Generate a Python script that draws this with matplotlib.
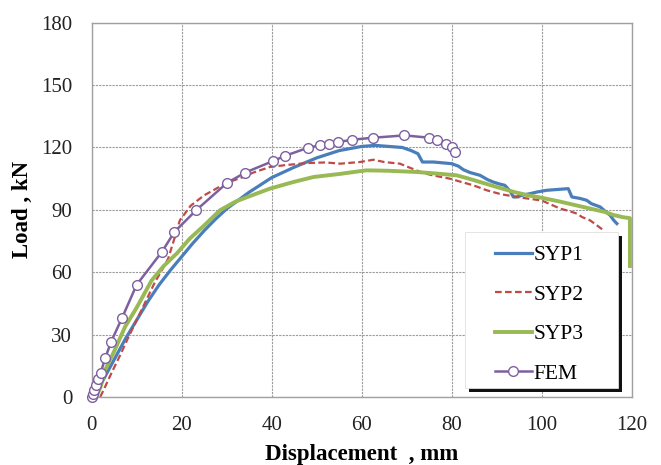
import matplotlib
matplotlib.use("Agg")
import matplotlib.pyplot as plt
from matplotlib.patches import Rectangle

# SYP1 test curve
syp1_x = [0, 1, 3, 5, 7.5, 10, 12.5, 15, 17.5, 20, 22.5, 25, 27.5, 30, 35, 40, 45, 50, 55, 60, 63,
          66, 69, 71, 72.5, 73.5, 76, 80, 81.5, 82.6, 84, 86.3, 88, 89.2, 90.5, 91.8, 93, 93.7, 94.4,
          96, 97.4, 99, 101.1, 103.5, 105.9, 106.7, 108.5, 110, 111, 113, 114, 115.2, 116, 116.7]
syp1_y = [0, 2, 10, 18, 28, 37, 46, 54, 61, 67.5, 74, 80, 85.5, 90.5, 98.5, 105.5, 110.5, 115, 118.5, 120.5, 121,
          120.5, 120, 118.5, 117, 113, 113, 112.2, 111, 109.3, 108, 106.6, 104.5, 103.4, 102.5, 101.8, 99, 96.2, 96.2,
          97.2, 97.8, 98.6, 99.4, 99.8, 100.2, 96.2, 95.5, 94.6, 93, 91.4, 89.5, 87.4, 85, 83.4]

# SYP2 test curve
syp2_x = [1.9, 3, 4.5, 6.3, 8, 10, 12, 14, 16, 17, 18.5, 19.6, 22, 25, 27, 30, 33.7, 36, 39.6, 43, 47.8,
          52, 55.2, 59.6, 62.6, 65, 68.5, 71, 73.7, 76, 79.6, 82, 84.8, 87.8, 91, 95, 100, 104.1, 106,
          107.8, 109, 110.7, 112, 113.7]
syp2_y = [0, 5, 12, 20, 28, 37, 46, 55, 62.5, 66.6, 77, 85, 92, 97, 99.4, 103, 105.8, 108, 110.6, 111.5, 112.5,
          112.8, 112.2, 113, 114.1, 113, 112.2, 110, 107.7, 106.5, 105, 103.5, 101.8, 99.4, 97.5, 96, 94.5, 90.6, 89.5,
          88.2, 86.5, 85, 83, 80.2]

# SYP3 test curve
syp3_x = [1, 2, 3, 5, 7.4, 10, 13.3, 16, 18.9, 21.8, 25, 28.5, 32, 35, 39.6, 45, 49.3, 55.2, 59.6, 61.1,
          66, 72.2, 77, 81.1, 83.5, 86.3, 90, 94, 97, 100, 104, 108, 111, 114, 116, 118, 119.6, 119.6]
syp3_y = [0, 5, 13, 22, 33.7, 43, 56, 63, 69, 76.2, 82.5, 89.8, 94, 96.5, 100.2, 103.5, 105.8, 107.3, 108.6, 109,
          108.8, 108.2, 107.4, 106.6, 105.2, 103.4, 101, 98.5, 97, 95.8, 94, 92, 90.5, 89, 87.5, 86.5, 86, 63]

# FEM prediction
fem_x = [0, 0.3, 0.6, 1.0, 1.5, 2, 3, 4.3, 6.7, 10, 15.6, 18.4, 23.2, 30.1, 34.1, 40.2, 43, 48.1, 50.7,
         52.7, 54.8, 57.8, 62.6, 69.5, 75, 76.7, 78.7, 80, 80.7]
fem_y = [0, 1.5, 3.5, 6, 8.5, 11.7, 18.6, 26.5, 37.8, 54, 69.8, 79.4, 89.8, 103, 107.9, 113.4, 116, 119.9, 121,
         121.8, 122.6, 123.7, 124.7, 125.8, 124.7, 123.4, 121.8, 120.2, 117.8]

plt.rcParams['font.family'] = ['Liberation Serif', 'DejaVu Serif']

fig = plt.figure(figsize=(6.61, 4.65), dpi=100)
ax = fig.add_axes([0.1387, 0.1462, 0.817, 0.805])

ax.plot(syp1_x, syp1_y, color='#4a7ebb', lw=2.3, label='SYP1')
ax.plot(syp2_x, syp2_y, color='#be4b48', lw=1.6, ls=(0, (3, 1.5)), label='SYP2')
ax.plot(syp3_x, syp3_y, color='#98b954', lw=2.8, label='SYP3')
ax.plot(fem_x, fem_y, color='#7d60a0', lw=1.8, marker='o', ms=7, mfc='white',
        mec='#7d60a0', mew=1.0, label='FEM', clip_on=False, zorder=5)

ax.set_xlim(0, 120)
ax.set_ylim(0, 180)
ax.set_xticks(range(0, 121, 20))
ax.set_yticks(range(0, 181, 30))
ax.tick_params(length=0, pad=14, labelsize=15, labelcolor='#222222')
ax.grid(True, color='#9a9a9a', lw=0.8, ls=(0, (2, 1)))
ax.set_axisbelow(True)
for sp in ax.spines.values():
    sp.set_color('#a0a0a0')
    sp.set_linewidth(1.0)

ax.set_xlabel('Displacement  , mm', fontsize=16.5, fontweight='bold', labelpad=6)
ax.set_ylabel('Load , kN', fontsize=16.5, fontweight='bold', labelpad=6)

# legend box with a hard black shadow, drawn over the curves
bx0, bx1, by0, by1 = 0.6913, 0.9746, 0.024, 0.4408
sdx, sdy = 0.0074, 0.0107
ax.add_patch(Rectangle((bx0 + sdx, by0 - sdy), bx1 - bx0, by1 - by0, transform=ax.transAxes,
                       facecolor='#111111', edgecolor='none', zorder=6, clip_on=False))
ax.add_patch(Rectangle((bx0, by0), bx1 - bx0, by1 - by0, transform=ax.transAxes,
                       facecolor='white', edgecolor='#e0e0e0', lw=0.6, zorder=7, clip_on=False))

leg = ax.legend(loc='upper left', bbox_to_anchor=(0.747, 0.405), fontsize=15.5,
                frameon=False, handlelength=1.7, labelspacing=0.9,
                borderpad=0, handletextpad=0.1, borderaxespad=0)
leg.set_zorder(8)

fig.savefig('out.png', dpi=100)
